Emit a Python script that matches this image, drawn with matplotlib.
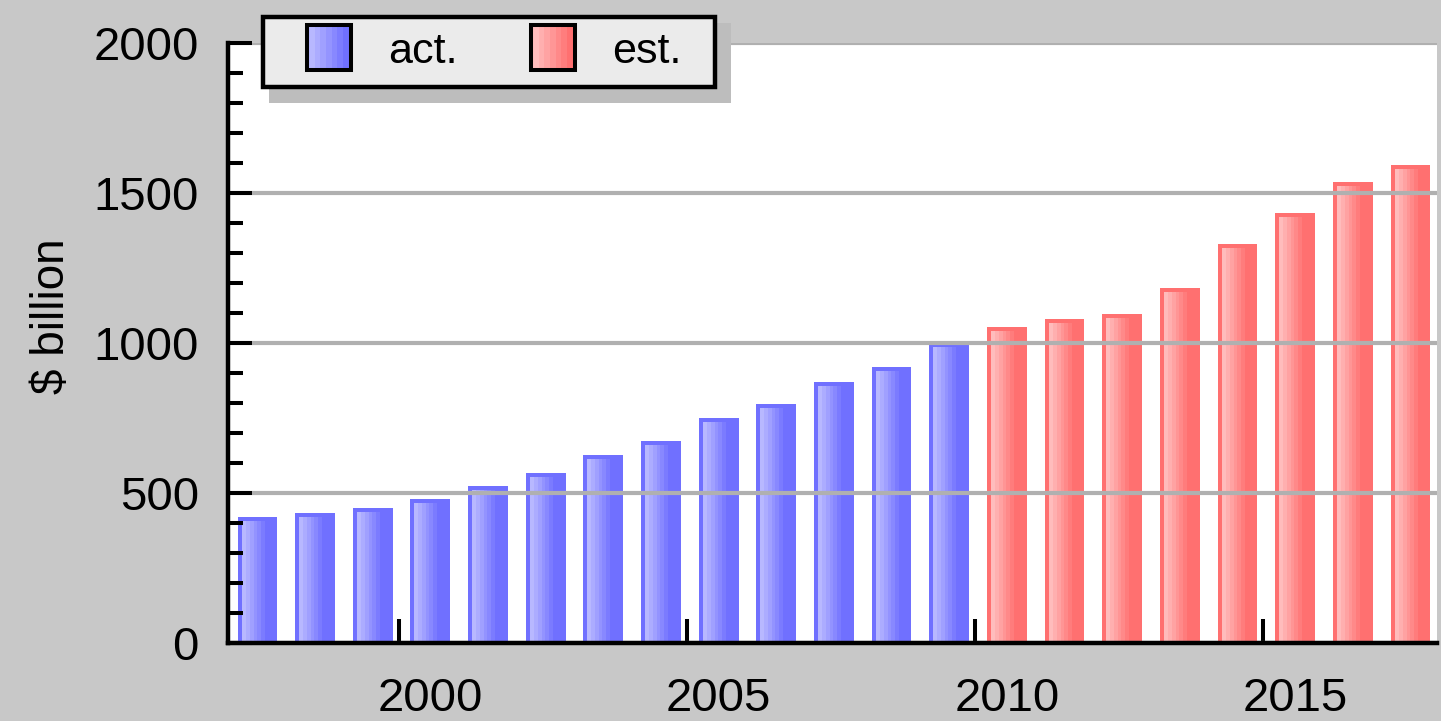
"Actual vs estimated spending, $ billion, 1997-2017."
import numpy as np
import matplotlib
matplotlib.use("Agg")
import matplotlib.pyplot as plt
from matplotlib.colors import LinearSegmentedColormap, to_rgb
from matplotlib.patches import Rectangle
from matplotlib.ticker import MultipleLocator

years_act = list(range(1997, 2010))
act = [418, 432, 448, 478, 522, 565, 625, 672, 750, 795, 870, 918, 998]
years_est = list(range(2010, 2018))
est = [1053, 1079, 1096, 1182, 1330, 1433, 1535, 1594]
yticks = [0, 500, 1000, 1500, 2000]
xtick_years = [2000, 2005, 2010, 2015]
legend_labels = ["act.", "est."]

BLUE, BLUE_LT = "#7070ff", "#b8b8ff"
RED, RED_LT = "#ff7070", "#ffbcbc"

plt.rcParams["font.family"] = ["Liberation Sans", "DejaVu Sans"]

W, H = 1441, 721
fig = plt.figure(figsize=(W / 100, H / 100), dpi=100, facecolor="#c8c8c8")
ax = fig.add_axes([228 / W, 1 - 642.5 / H, 1209 / W, 599.5 / H])


def fx(x):
    return x / W


def fy(y):
    return 1 - y / H


PX_X = 57.65      # pixels per year
PX_Y = 599.5 / 2000  # pixels per unit


def gradient_bars(ax, years, vals, base, light):
    cmap = LinearSegmentedColormap.from_list("g", [light, base])
    grad = np.linspace(0, 1, 7).reshape(1, -1)
    xs = [y + 0.55 for y in years]
    bars = ax.bar(xs, vals, width=0.69, color=base, linewidth=0, zorder=1)
    dx, gw, dy = 4 / PX_X, 26 / PX_X, 4 / PX_Y
    for b in bars:
        x0, h = b.get_x(), b.get_height()
        ax.imshow(grad, cmap=cmap, extent=(x0 + dx, x0 + dx + gw, 0, h - dy),
                  aspect="auto", interpolation="nearest", zorder=1.5)


gradient_bars(ax, years_act, act, BLUE, BLUE_LT)
gradient_bars(ax, years_est, est, RED, RED_LT)

ax.set_xlim(1997.04, 2018.01)
ax.set_ylim(0, 2000)

ax.set_xticks([y + 0.55 for y in xtick_years], labels=[str(y) for y in xtick_years])
ax.set_xticks(xtick_years, minor=True)
ax.tick_params(axis="x", which="major", length=0, pad=25, labelsize=34)
ax.tick_params(axis="x", which="minor", direction="in", length=17.6, width=2.9)

ax.set_yticks(yticks)
ax.yaxis.set_minor_locator(MultipleLocator(100))
ax.tick_params(axis="y", which="major", direction="in", length=17.3, width=2.9,
               pad=21, labelsize=34)
ax.tick_params(axis="y", which="minor", direction="in", length=10.8, width=2.9)

ax.set_axisbelow(False)
ax.yaxis.grid(True, which="major", color="#b0b0b0", linewidth=3)
for s in ["top", "right"]:
    ax.spines[s].set_visible(False)
for s in ["left", "bottom"]:
    ax.spines[s].set_linewidth(3.2)
    ax.spines[s].set_zorder(3)

fig.text(fx(52), fy(316.5), "$ billion", rotation=90, ha="center", va="center",
         fontsize=33)

# legend, drawn by hand (shadow, box, gradient swatches)
fig.add_artist(Rectangle((fx(269), fy(103)), 462 / W, 80 / H,
                         transform=fig.transFigure, facecolor="#bdbdbd",
                         edgecolor="none"))
fig.add_artist(Rectangle((fx(263), fy(87)), 452 / W, 70.5 / H,
                         transform=fig.transFigure, facecolor="#ebebeb",
                         edgecolor="black", linewidth=3.2))
for left, label, (base, light) in zip([305, 529], legend_labels,
                                      [(BLUE, BLUE_LT), (RED, RED_LT)]):
    c0, c1 = np.array(to_rgb(light)), np.array(to_rgb(base))
    n = 7
    x_in, w_in = left + 4, 39.5
    for i in range(n):
        c = c0 + (c1 - c0) * i / (n - 1)
        fig.add_artist(Rectangle((fx(x_in + w_in * i / n), fy(67.7)),
                                 w_in / n / W + 0.5 / W, 41 / H,
                                 transform=fig.transFigure, facecolor=c,
                                 edgecolor="none"))
    fig.add_artist(Rectangle((fx(left + 2), fy(69.7)), 43.5 / W, 45 / H,
                             transform=fig.transFigure, facecolor="none",
                             edgecolor="black", linewidth=2.9))
    fig.text(fx(left + 83), fy(63), label, fontsize=31, va="baseline")

fig.savefig("out.png", dpi=100, facecolor=fig.get_facecolor())
